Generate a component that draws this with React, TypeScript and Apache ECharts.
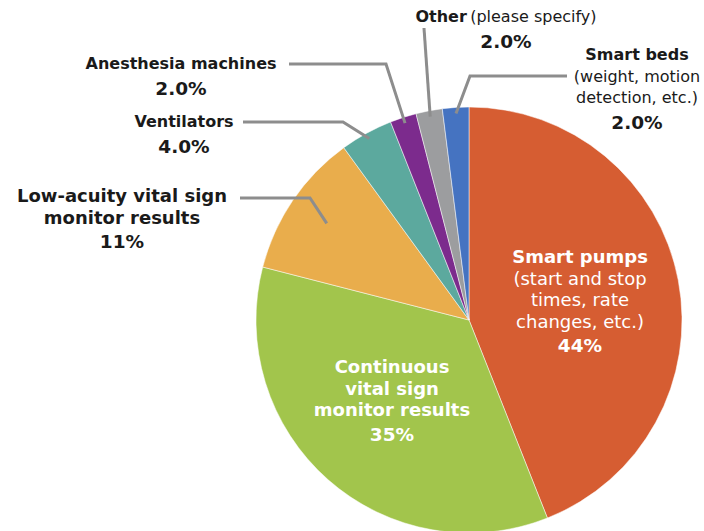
import React, { useEffect, useRef } from 'react';
import * as echarts from 'echarts';

const categories = [
  'Smart pumps',
  'Continuous vital sign monitor results',
  'Low-acuity vital sign monitor results',
  'Ventilators',
  'Anesthesia machines',
  'Other',
  'Smart beds',
];
const values = [44, 35, 11, 4, 2, 2, 2];
const colors = ['#D65D32', '#A2C54C', '#E9AD4C', '#5CA99E', '#7C2B8D', '#9C9D9F', '#4573C1'];
const labelTexts = [
  '{b|Smart pumps}\n{n|(start and stop}\n{n|times, rate}\n{n|changes, etc.)}',
  '{b|Continuous}\n{b|vital sign}\n{b|monitor results}',
  '{b|Low-acuity vital sign}\n{b|monitor results}',
  '{b|Ventilators}',
  '{b|Anesthesia machines}',
  '{b|Other} {n|(please specify)}',
  '{b|Smart beds}\n{n|(weight, motion}\n{n|detection, etc.)}',
];
const insideLabel = [true, true, false, false, false, false, false];

// layout (pixels)
const CX = 469;
const CY = 320;
const R = 213;
const labelFontSize = [18, 18, 18, 16, 16, 16, 16];
const labelPos = [
  { x: 580, y: 246 },
  { x: 392, y: 356 },
  { x: 122, y: 185 },
  { x: 184, y: 111 },
  { x: 181, y: 53 },
  { x: 506, y: 6 },
  { x: 637, y: 44 },
];
const anchorR = [0, 0, 172, 207, 207, 207, 207];
const leaderBends: number[][][] = [
  [],
  [],
  [[310, 198], [240, 198]],
  [[343, 122], [243, 122]],
  [[386, 64], [289, 64]],
  [[424, 28]],
  [[470, 76], [567, 76]],
];

const FONT = 'DejaVu Sans';
const pct = (v: number) => (v < 10 ? v.toFixed(1) : String(v)) + '%';

const makeRich = (color: string, size: number) => ({
  b: { fontFamily: FONT, fontSize: size, fontWeight: 'bold', color, lineHeight: 21.5 },
  n: { fontFamily: FONT, fontSize: size, fontWeight: 'normal', color, lineHeight: 21.5 },
  p: { fontFamily: FONT, fontSize: 18.5, fontWeight: 'bold', color, lineHeight: 27 },
});

const total = values.reduce((a, b) => a + b, 0);
const anchorPoint = (i: number, r: number) => {
  let cum = 0;
  for (let k = 0; k < i; k++) cum += values[k];
  const mid = (cum + values[i] / 2) / total;
  const th = mid * Math.PI * 2;
  return [CX + r * Math.sin(th), CY - r * Math.cos(th)];
};

export default function App() {
  const ref = useRef<HTMLDivElement>(null);
  useEffect(() => {
    if (!ref.current) return;
    const chart = echarts.init(ref.current, null, { renderer: 'svg' });
    const data = categories.map((name, i) => ({
      name,
      value: values[i],
      itemStyle: { color: colors[i] },
      label: insideLabel[i]
        ? { position: 'inside', rich: makeRich('#ffffff', labelFontSize[i]) }
        : { position: 'outside', rich: makeRich('#1a1a1a', labelFontSize[i]) },
    }));
    const leaders = categories
      .map((_, i) => i)
      .filter((i) => !insideLabel[i])
      .map((i) => ({
        type: 'polyline',
        z: 100,
        silent: true,
        shape: { points: [anchorPoint(i, anchorR[i]), ...leaderBends[i]] },
        style: { stroke: '#8D8D8D', lineWidth: 3, fill: null },
      }));
    chart.setOption({
      animation: false,
      backgroundColor: '#ffffff',
      graphic: { elements: leaders },
      series: [
        {
          type: 'pie',
          center: [CX, CY],
          radius: R,
          startAngle: 90,
          clockwise: true,
          avoidLabelOverlap: false,
          itemStyle: { borderColor: '#ffffff', borderWidth: 0.5 },
          label: {
            show: true,
            formatter: (p: any) => `${labelTexts[p.dataIndex]}\n{p|${pct(values[p.dataIndex])}}`,
            align: 'center',
          },
          labelLine: { show: false },
          labelLayout: (params: any) => {
            const pos = labelPos[params.dataIndex];
            return { x: pos.x, y: pos.y, align: 'center', verticalAlign: 'top' };
          },
          data,
        },
      ],
    });
    return () => chart.dispose();
  }, []);
  return (
    <div
      ref={ref}
      style={{ position: 'fixed', left: 0, top: 0, width: 704, height: 531 }}
    />
  );
}
